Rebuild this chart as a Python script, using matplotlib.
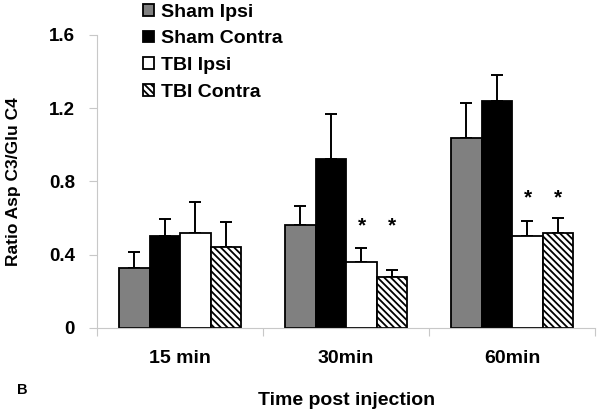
import matplotlib.pyplot as plt
import numpy as np

plt.rcParams['font.family'] = ['Liberation Sans', 'DejaVu Sans']
plt.rcParams['font.weight'] = 'bold'
plt.rcParams['hatch.linewidth'] = 1.3

groups = ['15 min', '30min', '60min']
series = ['Sham Ipsi', 'Sham Contra', 'TBI Ipsi', 'TBI Contra']
means = [
    [0.33, 0.56, 1.04],   # Sham Ipsi
    [0.50, 0.92, 1.24],   # Sham Contra
    [0.52, 0.36, 0.50],   # TBI Ipsi
    [0.44, 0.28, 0.52],   # TBI Contra
]
errs = [
    [0.085, 0.105, 0.19],
    [0.095, 0.25, 0.14],
    [0.17, 0.075, 0.085],
    [0.14, 0.036, 0.078],
]
# significance stars: (series index, group index, height)
stars = [(2, 1, 0.555), (3, 1, 0.555), (2, 2, 0.71), (3, 2, 0.71)]

colors = ['#808080', 'black', 'white', 'white']
hatches = [None, None, None, '\\\\\\\\\\']

fig = plt.figure(figsize=(6, 4.11), dpi=100)
ax = fig.add_axes([0.162, 0.202, 0.83, 0.713])

x = np.arange(len(groups))
w = 0.184
handles = []
for i, name in enumerate(series):
    pos = x + (i - 1.5) * w
    b = ax.bar(pos, means[i], w, color=colors[i], edgecolor='black',
               linewidth=1.3, hatch=hatches[i], label=name, zorder=2)
    ax.errorbar(pos, means[i], yerr=[np.zeros(3), errs[i]], fmt='none',
                ecolor='black', elinewidth=1.4, capsize=4.5, capthick=1.4, zorder=1)
    handles.append(b)

for si, gi, h in stars:
    ax.text(x[gi] + (si - 1.5) * w, h, '*', ha='center', va='center',
            fontsize=15, fontweight='bold')

ax.set_xlim(-0.5, 2.5)
ax.set_ylim(0, 1.6)
ax.set_yticks([0, 0.4, 0.8, 1.2, 1.6])
ax.set_yticklabels(['0', '0.4', '0.8', '1.2', '1.6'], fontsize=13.5, fontweight='bold')
ax.set_xticks([-0.5, 0.5, 1.5, 2.5])
ax.set_xticklabels([])
ax.set_xticks(x, minor=True)
ax.set_xticklabels(groups, minor=True, fontsize=14, fontweight='bold')
ax.tick_params(axis='x', which='minor', length=0, pad=16)
ax.tick_params(axis='both', which='major', color='#c8c8c8', length=6)
ax.tick_params(axis='y', pad=10)

for s in ['top', 'right']:
    ax.spines[s].set_visible(False)
for s in ['left', 'bottom']:
    ax.spines[s].set_color('#c8c8c8')

ax.set_ylabel('Ratio Asp C3/Glu C4', fontsize=12.5, fontweight='bold', labelpad=20)
ax.set_xlabel('Time post injection', fontsize=14, fontweight='bold', labelpad=18)

fig.legend(handles=handles, loc='upper left', bbox_to_anchor=(0.226, 1.01),
           frameon=False, fontsize=14, handlelength=0.55, handleheight=0.55,
           handletextpad=0.35, labelspacing=0.5, borderaxespad=0.0)

fig.text(0.028, 0.051, 'B', fontsize=10.5, fontweight='bold', va='center')

fig.savefig('out.png', dpi=100)
